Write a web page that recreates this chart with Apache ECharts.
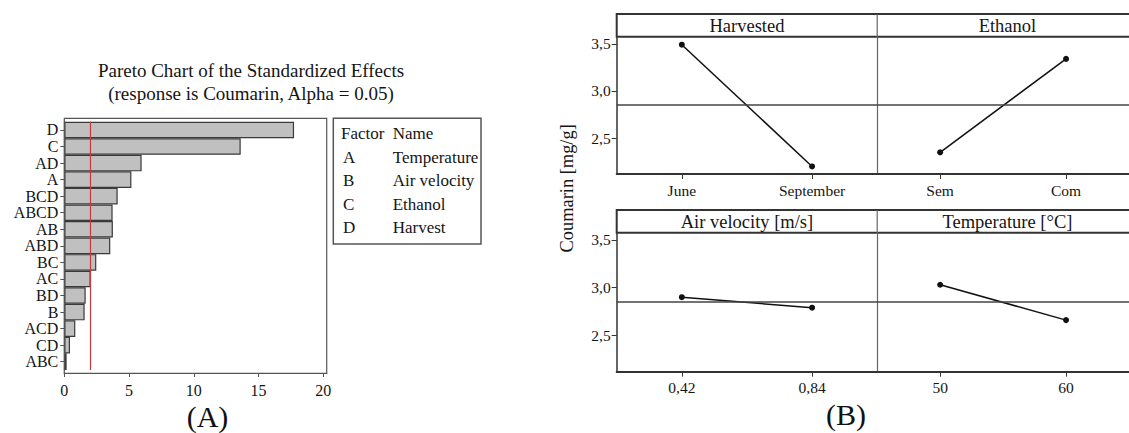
<!DOCTYPE html>
<html>
<head>
<meta charset="utf-8">
<script src="https://cdn.jsdelivr.net/npm/echarts@6/dist/echarts.min.js"></script>
<style>
html,body{margin:0;padding:0;background:#fff;}
#c{width:1129px;height:433px;}
</style>
</head>
<body>
<div id="c"></div>
<script>
// ---------- Data: Pareto chart (A) ----------
var effectTerms = ['D','C','AD','A','BCD','ABCD','AB','ABD','BC','AC','BD','B','ACD','CD','ABC'];
var effectValues = [17.74, 13.62, 5.97, 5.18, 4.12, 3.73, 3.75, 3.55, 2.47, 2.04, 1.65, 1.57, 0.85, 0.44, 0.18];
var criticalEffect = 2.04;
var paretoTicks = [0, 5, 10, 15, 20];
var factorCodes = ['A','B','C','D'];
var factorNames = ['Temperature','Air velocity','Ethanol','Harvest'];

// ---------- Data: main effects plot (B) ----------
var harvestLevels = ['June','September'];
var harvestMeans = [3.49, 2.20];
var ethanolLevels = ['Sem','Com'];
var ethanolMeans = [2.35, 3.34];
var airLevels = ['0,42','0,84'];
var airMeans = [2.90, 2.79];
var tempLevels = ['50','60'];
var tempMeans = [3.03, 2.66];
var grandMean = 2.845;
var meanTicks = [2.5, 3.0, 3.5];
var panelTitles = ['Harvested','Ethanol','Air velocity [m/s]','Temperature [°C]'];

var SERIF = '"Liberation Serif", "Times New Roman", serif';
var TXT = '#151515';
var chart = echarts.init(document.getElementById('c'), null, {renderer:'svg'});

// panel geometry
var PX0 = 616.7, PW = 260.5, PX1 = PX0 + PW;
var rows = [{stripTop:14, top:36.7, h:137.3}, {stripTop:210, top:232.7, h:139}];
var panels = [
  {levels: harvestLevels, means: harvestMeans, row:0, col:0},
  {levels: ethanolLevels, means: ethanolMeans, row:0, col:1},
  {levels: airLevels, means: airMeans, row:1, col:0},
  {levels: tempLevels, means: tempMeans, row:1, col:1}
];

var grids = [{left:64.3, top:121.7, width:262.4, height:248.3}];
var xAxes = [{
  gridIndex:0, type:'value', min:0, max:20.26, offset:3,
  axisLine:{show:true, lineStyle:{color:'#555', width:1.2}},
  axisTick:{show:true, length:4, customValues:paretoTicks, lineStyle:{color:'#555'}},
  axisLabel:{customValues:paretoTicks, margin:9, fontFamily:SERIF, fontSize:16, color:TXT},
  splitLine:{show:false}
}];
var yAxes = [{
  gridIndex:0, type:'category', inverse:true, data:effectTerms,
  axisLine:{show:true, lineStyle:{color:'#555', width:1.2}},
  axisTick:{show:true, length:4, alignWithLabel:true, lineStyle:{color:'#555'}},
  axisLabel:{margin:6, fontFamily:SERIF, fontSize:16, color:TXT, interval:0}
}];
var series = [{
  type:'bar', xAxisIndex:0, yAxisIndex:0, data:effectValues,
  barCategoryGap:'0%',
  itemStyle:{color:'#c0c0c0', borderColor:'#3a3a3a', borderWidth:1.2},
  silent:true,
  markLine:{silent:true, symbol:'none', label:{show:false},
    lineStyle:{color:'#c83a3a', width:1.2, type:'solid'},
    data:[{xAxis:criticalEffect}]}
}];

panels.forEach(function(p, i){
  var g = i + 1;
  var r = rows[p.row];
  grids.push({left: p.col === 0 ? PX0 : PX1, top: r.top, width: PW, height: r.h});
  xAxes.push({
    gridIndex:g, type:'category', data:p.levels, boundaryGap:true,
    axisLine:{show:true, lineStyle:{color:'#333', width:2}},
    axisTick:{show:true, alignWithLabel:true, length:5, lineStyle:{color:'#333'}},
    axisLabel:{margin:8, fontFamily:SERIF, fontSize:15.5, color:TXT}
  });
  var left = p.col === 0;
  yAxes.push({
    gridIndex:g, type:'value', min:2.12, max:3.575,
    axisLine:{show:true, lineStyle:{color: left ? '#333' : '#666', width: left ? 1.5 : 1.2}},
    axisTick:{show:left, length:5, customValues:meanTicks, lineStyle:{color:'#333'}},
    axisLabel:{show:left, customValues:meanTicks, margin:6, fontFamily:SERIF, fontSize:15.5, color:TXT,
      formatter:function(v){return v.toFixed(1).replace('.', ',');}},
    splitLine:{show:false}
  });
  series.push({
    type:'line', xAxisIndex:g, yAxisIndex:g, data:p.means,
    symbol:'circle', symbolSize:6, silent:true,
    itemStyle:{color:'#111'}, lineStyle:{color:'#111', width:1.5},
    markLine:{silent:true, symbol:'none', label:{show:false},
      lineStyle:{color:'#444', width:1.5, type:'solid'},
      data:[{yAxis:grandMean}]}
  });
});

// decorations
var graphics = [];
graphics.push({type:'rect', shape:{x:64.3, y:118.3, width:262.4, height:255},
  style:{fill:'none', stroke:'#555', lineWidth:1.2}, z:10, silent:true});
graphics.push({type:'text', x:251, y:70, style:{text:'Pareto Chart of the Standardized Effects',
  font:'19px ' + SERIF, fill:TXT, textAlign:'center', textVerticalAlign:'middle'}});
graphics.push({type:'text', x:251, y:93, style:{text:'(response is Coumarin, Alpha = 0.05)',
  font:'19px ' + SERIF, fill:TXT, textAlign:'center', textVerticalAlign:'middle'}});
graphics.push({type:'rect', shape:{x:333.3, y:118.3, width:147.7, height:125.7},
  style:{fill:'none', stroke:'#555', lineWidth:1.5}, silent:true});
graphics.push({type:'text', x:341, y:133.3, style:{text:'Factor', font:'17px ' + SERIF, fill:TXT, textVerticalAlign:'middle'}});
graphics.push({type:'text', x:392.7, y:133.3, style:{text:'Name', font:'17px ' + SERIF, fill:TXT, textVerticalAlign:'middle'}});
factorCodes.forEach(function(code, k){
  var y = 157.3 + k * 23.4;
  graphics.push({type:'text', x:343, y:y, style:{text:code, font:'17px ' + SERIF, fill:TXT, textVerticalAlign:'middle'}});
  graphics.push({type:'text', x:392.7, y:y, style:{text:factorNames[k], font:'17px ' + SERIF, fill:TXT, textVerticalAlign:'middle'}});
});
graphics.push({type:'text', x:207.5, y:416, style:{text:'(A)', font:'30px ' + SERIF, fill:'#111', textAlign:'center', textVerticalAlign:'middle'}});
rows.forEach(function(r){
  graphics.push({type:'rect', shape:{x:PX0, y:r.stripTop, width:PW*2 + 20, height:r.top - r.stripTop},
    style:{fill:'#fff', stroke:'#333', lineWidth:2}, silent:true});
  graphics.push({type:'line', shape:{x1:PX1, y1:r.stripTop, x2:PX1, y2:r.top},
    style:{stroke:'#666', lineWidth:1.2}, silent:true});
});
panels.forEach(function(p, i){
  var r = rows[p.row];
  graphics.push({type:'text', x:(p.col === 0 ? PX0 : PX1) + PW/2, y:(r.stripTop + r.top)/2 + 0.5,
    style:{text:panelTitles[i], font:'18.5px ' + SERIF, fill:TXT, textAlign:'center', textVerticalAlign:'middle'}});
});
graphics.push({type:'text', x:566.7, y:188.3, rotation:Math.PI/2,
  style:{text:'Coumarin [mg/g]', font:'18.4px ' + SERIF, fill:TXT, textAlign:'center', textVerticalAlign:'middle'}});
graphics.push({type:'text', x:846, y:414, style:{text:'(B)', font:'30px ' + SERIF, fill:'#111', textAlign:'center', textVerticalAlign:'middle'}});

chart.setOption({
  animation:false,
  backgroundColor:'#fff',
  grid:grids,
  xAxis:xAxes,
  yAxis:yAxes,
  series:series,
  graphic:graphics
});
</script>
</body>
</html>
